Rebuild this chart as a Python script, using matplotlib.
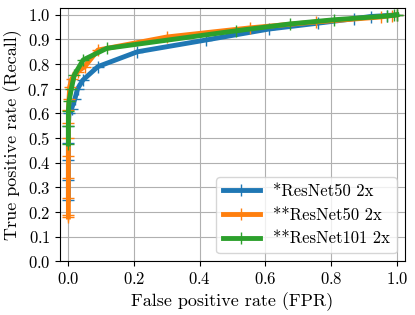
import matplotlib
matplotlib.use("Agg")
import matplotlib.pyplot as plt

plt.rcParams['font.family'] = 'serif'
plt.rcParams['font.serif'] = ['cmr10']
plt.rcParams['mathtext.fontset'] = 'cm'
plt.rcParams['axes.unicode_minus'] = False
plt.rcParams['axes.formatter.use_mathtext'] = True

# ROC points
fprA = [0.0, 0.0, 0.0, 0.0, 0.0, 0.002, 0.01, 0.02, 0.028, 0.044, 0.09, 0.21, 0.42, 0.61, 0.76, 0.87, 0.92, 0.97, 1.0]
tprA = [0.25, 0.33, 0.41, 0.48, 0.55, 0.60, 0.62, 0.66, 0.70, 0.735, 0.79, 0.85, 0.898, 0.942, 0.966, 0.984, 0.993, 0.997, 1.0]

fprB = [0.0, 0.0, 0.0, 0.0, 0.0, 0.0, 0.0, 0.0, 0.002, 0.004, 0.01, 0.028, 0.05, 0.09, 0.30, 0.553, 0.754, 0.951, 0.985, 1.0]
tprB = [0.18, 0.19, 0.257, 0.34, 0.427, 0.50, 0.56, 0.613, 0.66, 0.708, 0.74, 0.77, 0.79, 0.857, 0.91, 0.947, 0.971, 0.991, 0.997, 1.0]

fprC = [0.0, 0.0, 0.0, 0.002, 0.009, 0.018, 0.045, 0.117, 0.51, 0.675, 0.81, 0.97, 0.99, 1.0]
tprC = [0.476, 0.549, 0.61, 0.65, 0.70, 0.756, 0.817, 0.864, 0.935, 0.963, 0.98, 0.995, 0.998, 1.0]

labels = ["*ResNet50 2x", "**ResNet50 2x", "**ResNet101 2x"]

fig, ax = plt.subplots(figsize=(4.15, 3.15), dpi=100)
ax.plot(fprA, tprA, marker='+', lw=3.5, ms=9, mew=1, label=labels[0])
ax.plot(fprB, tprB, marker='+', lw=3.5, ms=9, mew=1, label=labels[1])
ax.plot(fprC, tprC, marker='+', lw=3.5, ms=9, mew=1, label=labels[2])

ax.set_xlim(-0.025, 1.025)
ax.set_ylim(0, 1.028)
ax.set_xticks([0.0, 0.2, 0.4, 0.6, 0.8, 1.0])
ax.set_yticks([i / 10 for i in range(11)])
ax.tick_params(labelsize=12)
ax.grid(True, color='#b0b0b0', lw=0.8)
ax.set_xlabel("False positive rate (FPR)", fontsize=13)
ax.set_ylabel("True positive rate (Recall)", fontsize=13)
ax.legend(loc='lower right', fontsize=12, handlelength=2.2)

plt.subplots_adjust(left=0.145, right=0.976, top=0.975, bottom=0.17)
plt.savefig("out.png")
